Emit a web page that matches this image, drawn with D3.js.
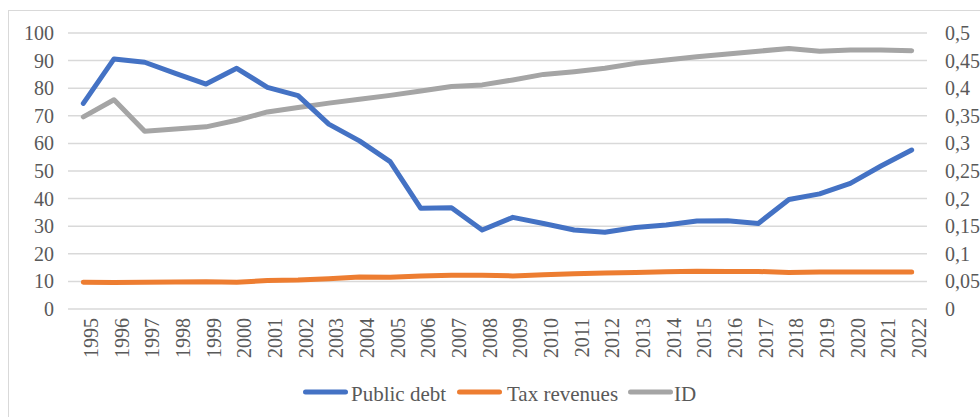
<!DOCTYPE html>
<html>
<head>
<meta charset="utf-8">
<script src="https://cdn.jsdelivr.net/npm/d3@7"></script>
<style>
  body { margin: 0; background: #fff; }
</style>
</head>
<body>
<div id="chart-container"></div>
<script>
// data
var years = [1995,1996,1997,1998,1999,2000,2001,2002,2003,2004,2005,2006,2007,2008,
             2009,2010,2011,2012,2013,2014,2015,2016,2017,2018,2019,2020,2021,2022];
var publicDebt = [74.5,90.6,89.4,85.4,81.5,87.2,80.3,77.3,67.0,60.9,53.4,36.5,36.7,28.6,
                  33.2,31.0,28.6,27.8,29.5,30.4,31.9,32.0,31.0,39.7,41.7,45.5,51.8,57.6];
var taxRevenues = [9.7,9.6,9.7,9.8,9.9,9.7,10.3,10.5,11.0,11.6,11.5,12.0,12.2,12.2,
                   12.0,12.4,12.8,13.0,13.2,13.5,13.7,13.6,13.6,13.2,13.4,13.4,13.4,13.4];
var idIndex = [0.348,0.379,0.322,0.326,0.330,0.342,0.357,0.365,0.373,0.380,0.387,0.395,0.403,0.406,
               0.415,0.425,0.430,0.436,0.445,0.451,0.457,0.462,0.467,0.472,0.467,0.469,0.469,0.468];
var leftTicks = [0,10,20,30,40,50,60,70,80,90,100];
var rightTicks = [0,0.05,0.1,0.15,0.2,0.25,0.3,0.35,0.4,0.45,0.5];
var seriesNames = ["Public debt", "Tax revenues", "ID"];

var width = 980, height = 417;
var plotLeft = 68, plotRight = 927, plotTop = 33, plotBottom = 309;

var svg = d3.select("#chart-container")
    .append("svg")
    .attr("width", width)
    .attr("height", height);

// chart frame (only top and left edges fall inside the window)
svg.append("rect")
    .attr("x", 8.5)
    .attr("y", 10.5)
    .attr("width", 1000)
    .attr("height", 500)
    .attr("fill", "none")
    .attr("stroke", "#d9d9d9")
    .attr("stroke-width", 1);

var x = d3.scalePoint()
    .domain(years)
    .range([plotLeft, plotRight])
    .padding(0.5);

var yLeft = d3.scaleLinear()
    .domain([0, 100])
    .range([plotBottom, plotTop]);

var yRight = d3.scaleLinear()
    .domain([0, 0.5])
    .range([plotBottom, plotTop]);

// gridlines
svg.append("g")
    .attr("class", "grid")
    .selectAll("line")
    .data(leftTicks)
    .enter()
    .append("line")
    .attr("x1", plotLeft)
    .attr("x2", plotRight)
    .attr("y1", function(d) { return yLeft(d); })
    .attr("y2", function(d) { return yLeft(d); })
    .attr("stroke", "#d9d9d9")
    .attr("stroke-width", 1.5);

// serif text, set on each text element itself
function serifText(sel, size) {
    sel.attr("font-family", "Liberation Serif")
        .attr("font-size", size || 20)
        .attr("fill", "#595959");
}

function cleanAxis(g) {
    g.select(".domain").remove();
    g.selectAll("text").call(serifText, 20);
}

// left axis
var yAxisLeft = d3.axisLeft(yLeft)
    .tickValues(leftTicks)
    .tickSize(0)
    .tickPadding(14);

svg.append("g")
    .attr("class", "y-axis")
    .attr("transform", "translate(" + plotLeft + ",0)")
    .call(yAxisLeft)
    .call(cleanAxis);

// right axis
var yAxisRight = d3.axisRight(yRight)
    .tickValues(rightTicks)
    .tickSize(0)
    .tickPadding(18)
    .tickFormat(function(d) { return String(d).replace(".", ","); });

svg.append("g")
    .attr("class", "y-axis-right")
    .attr("transform", "translate(" + plotRight + ",0)")
    .call(yAxisRight)
    .call(cleanAxis);

// x axis, rotated labels
var xAxis = d3.axisBottom(x).tickSize(0);

svg.append("g")
    .attr("class", "x-axis")
    .attr("transform", "translate(0," + plotBottom + ")")
    .call(xAxis)
    .call(cleanAxis)
    .selectAll("text")
    .attr("text-anchor", "end")
    .attr("transform", "rotate(-90)")
    .attr("x", -9)
    .attr("y", 0)
    .attr("dy", "0.7em");

// lines
var lineLeft = d3.line()
    .x(function(d, i) { return x(years[i]); })
    .y(function(d) { return yLeft(d); });

var lineRight = d3.line()
    .x(function(d, i) { return x(years[i]); })
    .y(function(d) { return yRight(d); });

svg.append("path")
    .datum(taxRevenues)
    .attr("fill", "none")
    .attr("stroke", "#ed7d31")
    .attr("stroke-width", 5)
    .attr("stroke-linecap", "round")
    .attr("stroke-linejoin", "round")
    .attr("d", lineLeft);

svg.append("path")
    .datum(idIndex)
    .attr("fill", "none")
    .attr("stroke", "#a5a5a5")
    .attr("stroke-width", 5)
    .attr("stroke-linecap", "round")
    .attr("stroke-linejoin", "round")
    .attr("d", lineRight);

svg.append("path")
    .datum(publicDebt)
    .attr("fill", "none")
    .attr("stroke", "#4472c4")
    .attr("stroke-width", 5)
    .attr("stroke-linecap", "round")
    .attr("stroke-linejoin", "round")
    .attr("d", lineLeft);

// legend
var legendColors = ["#4472c4", "#ed7d31", "#a5a5a5"];
var legendLineX = [303, 457, 628];
var legendTextX = [351, 507, 674];
var legend = svg.append("g").attr("class", "legend");

seriesNames.forEach(function(name, i) {
    legend.append("line")
        .attr("x1", legendLineX[i] + 2.5)
        .attr("x2", legendLineX[i] + 42.5)
        .attr("y1", 392)
        .attr("y2", 392)
        .attr("stroke", legendColors[i])
        .attr("stroke-width", 5)
        .attr("stroke-linecap", "round");
    legend.append("text")
        .attr("x", legendTextX[i])
        .attr("y", 401)
        .call(serifText, 21)
        .text(name);
});
</script>
</body>
</html>
